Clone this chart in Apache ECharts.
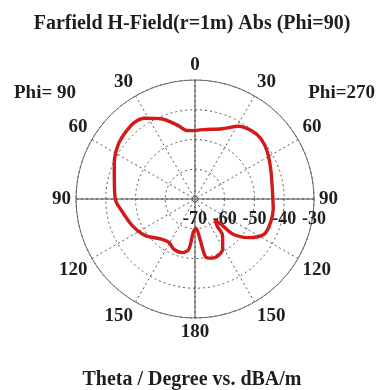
<!DOCTYPE html>
<html>
<head>
<meta charset="utf-8">
<script src="https://cdn.jsdelivr.net/npm/echarts@6/dist/echarts.min.js"></script>
<style>
  html, body { margin: 0; padding: 0; background: #ffffff; }
  #chart { width: 384px; height: 390px; }
</style>
</head>
<body>
<div id="chart"></div>
<script>
// Texts
const titleText = 'Farfield H-Field(r=1m) Abs (Phi=90)';
const footerText = 'Theta / Degree vs. dBA/m';
const leftCutLabel = 'Phi= 90';
const rightCutLabel = 'Phi=270';

// Radial scale (dBA/m) and angular step (degrees)
const levelTicks = [-70, -60, -50, -40, -30];
const thetaStep = 30;

// Phi = 270 cut: theta measured clockwise from the top (right half)
const phi270Theta = [0, 7, 21, 31, 40, 48, 57, 69, 83, 91, 97, 107, 117, 126, 133, 134, 137, 141, 143, 151, 155, 162, 167, 170, 173, 178];
const phi270Level = [-47.0, -46.5, -44.7, -41.5, -40.2, -40.0, -41.0, -42.7, -43.8, -43.8, -43.5, -43.4, -43.9, -47.9, -52.9, -58.0, -60.1, -57.9, -54.6, -50.8, -49.8, -49.2, -49.6, -50.6, -56.5, -60.2];

// Phi = 90 cut: theta measured counter-clockwise from the top (left half)
const phi90Theta = [177, 173, 167, 157, 149, 140, 126, 113, 100, 91, 79, 66, 55, 46, 38, 32, 23, 13, 7];
const phi90Level = [-58.8, -53.0, -51.5, -51.7, -53.0, -52.4, -49.2, -47.1, -45.2, -43.3, -42.4, -40.3, -38.4, -37.6, -37.2, -38.0, -40.7, -44.6, -46.8];

// One closed trace: right half going down, left half coming back up
const pattern = [];
phi270Theta.forEach((t, i) => pattern.push([phi270Level[i], t]));
phi90Theta.forEach((t, i) => pattern.push([phi90Level[i], 360 - t]));
pattern.push([phi270Level[0], phi270Theta[0]]);

const serif = '"Liberation Serif", "Times New Roman", serif';
const ink = '#1e1e1e';
const levelMin = levelTicks[0];
const levelMax = levelTicks[levelTicks.length - 1];
const levelStep = levelTicks[1] - levelTicks[0];

const chart = echarts.init(document.getElementById('chart'), null, { renderer: 'canvas' });

chart.setOption({
  backgroundColor: '#ffffff',
  animation: false,
  title: [
    { text: titleText, left: 'center', top: 9,
      textStyle: { fontFamily: serif, fontWeight: 'bold', fontSize: 20, color: ink } },
    { text: footerText, left: 'center', top: 365,
      textStyle: { fontFamily: serif, fontWeight: 'bold', fontSize: 20, color: ink } },
    { text: leftCutLabel, left: 9, top: 79,
      textStyle: { fontFamily: serif, fontWeight: 'bold', fontSize: 19, color: ink } },
    { text: rightCutLabel, right: 4, top: 79,
      textStyle: { fontFamily: serif, fontWeight: 'bold', fontSize: 19, color: ink } }
  ],
  polar: [
    { center: [195, 199], radius: 119 },
    { center: [195, 199], radius: 119 }
  ],
  angleAxis: [
    {
      polarIndex: 0,
      type: 'value',
      min: 0, max: 360, interval: thetaStep,
      startAngle: 90, clockwise: true,
      axisLine: { show: true, lineStyle: { color: '#6a6a6a', width: 1 } },
      axisTick: { show: false },
      axisLabel: {
        margin: 5,
        fontFamily: serif, fontWeight: 'bold', fontSize: 19, color: ink,
        formatter: v => (v >= 360 ? '' : String(v <= 180 ? v : 360 - v))
      },
      splitLine: { show: true, lineStyle: { color: '#555555', width: 1, type: [2, 3] } }
    },
    {
      polarIndex: 1,
      type: 'value',
      min: 0, max: 360, interval: 90,
      startAngle: 0, clockwise: true,
      z: 3,
      axisLine: { show: false },
      axisTick: { show: false },
      axisLabel: { show: false },
      splitLine: { show: true, lineStyle: { color: '#4a4a4a', width: 1, type: 'solid' } }
    }
  ],
  radiusAxis: [
    {
      polarIndex: 0,
      type: 'value',
      min: levelMin, max: levelMax, interval: levelStep,
      axisLine: { show: false },
      axisTick: { show: false },
      axisLabel: { show: false },
      splitLine: { show: true, lineStyle: { color: '#555555', width: 1, type: [2, 3] } }
    },
    {
      polarIndex: 1,
      type: 'value',
      min: levelMin, max: levelMax, interval: levelStep,
      z: 3,
      axisLine: { show: false },
      axisTick: { show: false },
      axisLabel: {
        show: true, margin: -29,
        fontFamily: serif, fontWeight: 'bold', fontSize: 18, color: ink
      },
      splitLine: { show: false }
    }
  ],
  series: [
    {
      type: 'line',
      coordinateSystem: 'polar',
      polarIndex: 0,
      data: pattern,
      showSymbol: false,
      smooth: 0.3,
      z: 5,
      lineStyle: { color: '#d21a1a', width: 3.4 }
    }
  ]
});
</script>
</body>
</html>
